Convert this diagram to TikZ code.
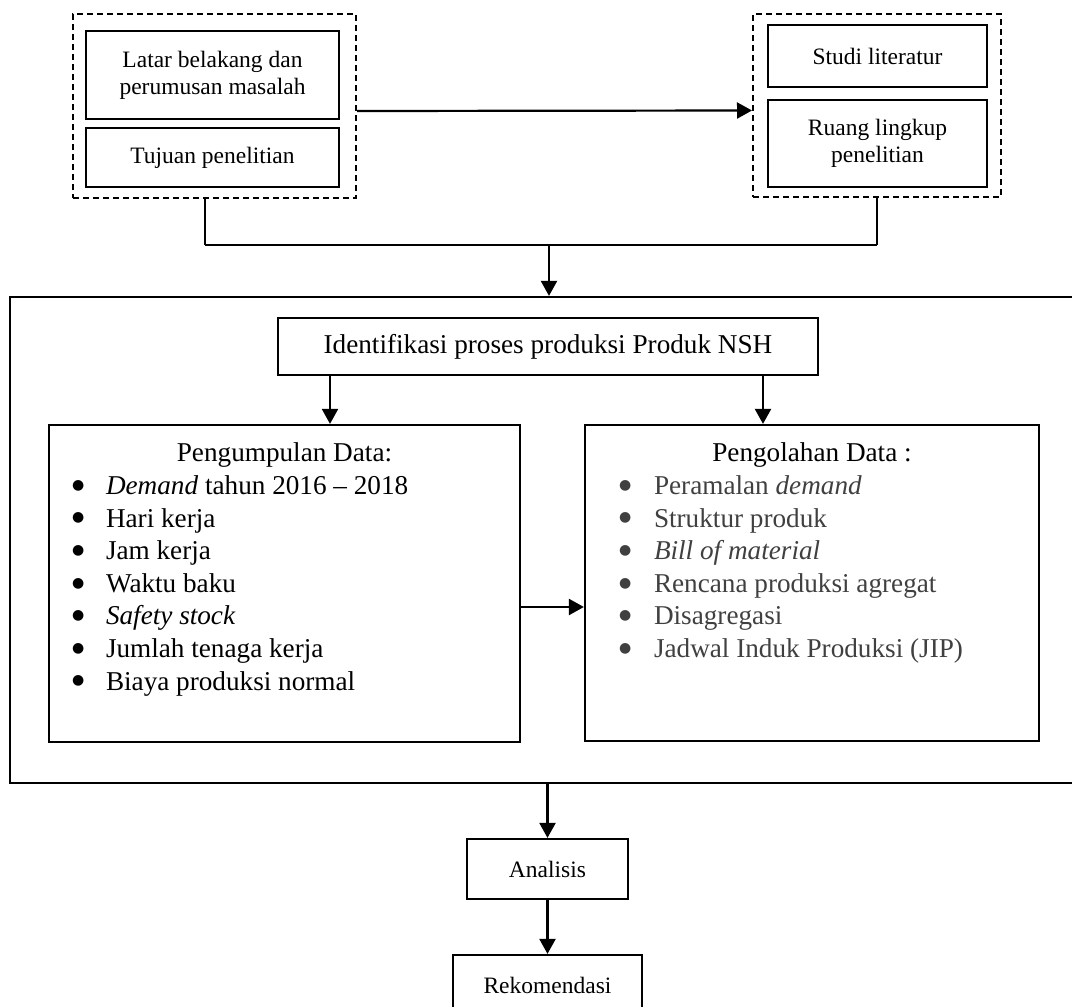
\documentclass[tikz,border=0pt]{standalone}
\usepackage{fontspec}
\setmainfont{Liberation Serif}
\newfontfamily\dotfont{DejaVu Sans}
\usetikzlibrary{arrows.meta}

\definecolor{listgray}{HTML}{404040}
\newcommand\smalltxt{\fontsize{11.75}{13.4}\selectfont}
\newcommand\bigtxt{\fontsize{13.6}{16.3}\selectfont}
\newcommand\bigdot{\raisebox{2.6pt}{\dotfont\fontsize{7}{7}\selectfont ●}}
\newcommand\pditem[1]{\hspace*{11.5pt}\makebox[17pt][l]{\bigdot}#1\par}
\newcommand\poitem[1]{\hspace*{17pt}\makebox[17.5pt][l]{\textcolor{listgray}{\bigdot}}\textcolor{listgray}{#1}\par}

\begin{document}
\begin{tikzpicture}[
  x=0.5pt, y=-0.5pt,
  box/.style={
    draw,
    line width=1.1pt,
    inner sep=0pt,
    align=center,
    font=\smalltxt
  },
  groupbox/.style={
    draw,
    dash pattern=on 3pt off 2pt,
    line width=1pt,
    inner sep=0pt
  },
  databox/.style={
    draw,
    line width=1.1pt,
    inner sep=0pt
  },
  arr/.style={
    line width=1.1pt,
    -{Triangle[length=7.5pt,width=8pt]}
  }
]
\useasboundingbox (0,0) rectangle (1072,1007);

% top groups
\node[groupbox, minimum width=141.5pt, minimum height=92pt] (dashL) at (214.5,106) {};
\node[groupbox, minimum width=124pt, minimum height=91.5pt] (dashR) at (877,105.5) {};
\node[box, minimum width=126.5pt, minimum height=44pt] (latar) at (212.5,75) {Latar belakang dan\\perumusan masalah};
\node[box, minimum width=126.5pt, minimum height=29.5pt] (tujuan) at (212.5,157.5) {Tujuan penelitian};
\node[box, minimum width=109.5pt, minimum height=31pt] (studi) at (877.5,56) {Studi literatur};
\node[box, minimum width=109.5pt, minimum height=43.5pt] (ruang) at (877.5,143.5) {Ruang lingkup\\penelitian};

% main frame
\node[databox, minimum width=535pt, minimum height=243pt] (outer) at (545,540) {};
\node[box, font=\bigtxt, minimum width=270pt, minimum height=28.5pt] (ident) at (548,346.5) {Identifikasi proses produksi Produk NSH};
\node[databox] (pd) at (284.5,583.5) {\parbox[c][158.5pt][t]{235.5pt}{\bigtxt\vspace*{9pt}%
  {\centering Pengumpulan Data:\par}\raggedright
  \pditem{\textit{Demand} tahun 2016 -- 2018}
  \pditem{Hari kerja}
  \pditem{Jam kerja}
  \pditem{Waktu baku}
  \pditem{\textit{Safety stock}}
  \pditem{Jumlah tenaga kerja}
  \pditem{Biaya produksi normal}}};
\node[databox] (po) at (812,583) {\parbox[c][158pt][t]{227pt}{\bigtxt\vspace*{9pt}%
  {\centering Pengolahan Data :\par}\raggedright
  \poitem{Peramalan \textit{demand}}
  \poitem{Struktur produk}
  \poitem{\textit{Bill of material}}
  \poitem{Rencana produksi agregat}
  \poitem{Disagregasi}
  \poitem{Jadwal Induk Produksi (JIP)}}};

% bottom
\node[box, minimum width=80.5pt, minimum height=30pt] (analisis) at (547.5,869) {Analisis};
\node[box, minimum width=94.5pt, minimum height=30pt] (rekom) at (547.5,985) {Rekomendasi};

% connectors
\coordinate (join) at (549,245);
\coordinate (lriser) at (205,0);
\coordinate (pdtop) at (330,0);
\coordinate (potop) at (763,0);
\coordinate (flow) at (0,607);
\draw[arr] ([yshift=-2.5pt]dashL.east) -- ([yshift=-2.5pt]dashR.west);
\draw[line width=0.6pt] (dashL.south -| lriser) -- (lriser |- join);
\draw[line width=0.6pt] (dashR.south) -- (dashR.south |- join);
\draw[line width=1.1pt] (lriser |- join) -- (dashR.south |- join);
\draw[arr] (join) -- (join |- outer.north);
\draw[arr] (ident.south -| pdtop) -- (pdtop |- pd.north);
\draw[arr] (ident.south -| potop) -- (potop |- po.north);
\draw[arr] (pd.east |- flow) -- (po.west |- flow);
\draw[arr] (outer.south -| analisis.north) -- (analisis.north);
\draw[arr] (analisis) -- (rekom);
\end{tikzpicture}
\end{document}
